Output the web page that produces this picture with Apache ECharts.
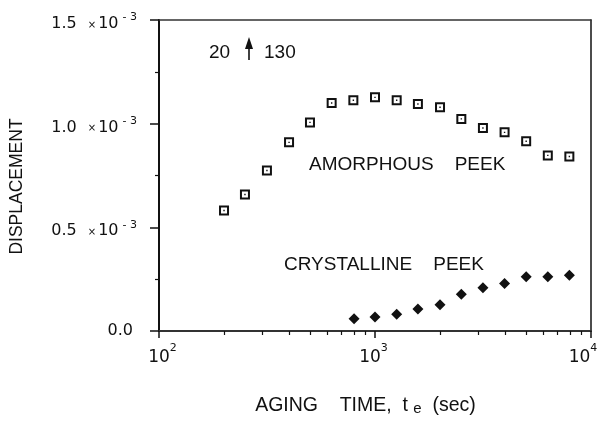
<!DOCTYPE html>
<html>
<head>
<meta charset="utf-8">
<script src="https://cdn.jsdelivr.net/npm/echarts@6/dist/echarts.min.js"></script>
<style>
  html, body { margin: 0; padding: 0; background: #fff; overflow: hidden; }
  #chart { width: 601px; height: 422px; }
</style>
</head>
<body>
<div id="chart"></div>
<script>
// Aging time (s) and displacement (in units of 10^-3)
const amorphousTime = [200, 250, 316, 400, 500, 630, 794, 1000, 1260, 1580, 2000, 2510, 3160, 3980, 5010, 6310, 7940];
const amorphousDisp = [0.581, 0.658, 0.774, 0.910, 1.006, 1.100, 1.113, 1.127, 1.113, 1.095, 1.079, 1.023, 0.979, 0.958, 0.915, 0.847, 0.842];
const crystallineTime = [800, 1000, 1260, 1580, 2000, 2510, 3160, 3980, 5010, 6310, 7940];
const crystallineDisp = [0.059, 0.068, 0.081, 0.106, 0.127, 0.177, 0.209, 0.229, 0.262, 0.262, 0.269];

// Axis ticks
const xMajorTicks = [100, 1000, 10000];
const xMinorTicks = [200, 300, 400, 500, 600, 700, 800, 900, 2000, 3000, 4000, 5000, 6000, 7000, 8000, 9000];

const FONT = '"Liberation Sans", Arial, sans-serif';
const NUMFONT = '"DejaVu Sans", sans-serif';
const INK = '#111';

// open square with a centre dot
const squareDot = 'path://M0 0H10V10H0ZM2 2V8H8V2ZM4.3 4.3H5.7V5.7H4.3Z';

const chart = echarts.init(document.getElementById('chart'), null, { renderer: 'canvas' });

const pair = (xs, ys) => xs.map((x, i) => [x, ys[i]]);

// decade labels: "10" with a raised exponent; the last one is pulled inside the frame
const decadeLabel = v => {
  const e = Math.round(Math.log10(v));
  return '{b' + e + '|10}{s' + e + '|' + e + '}';
};
const digitStyle = pad => ({ fontFamily: NUMFONT, fontSize: 17, color: INK, padding: pad });
const expStyle = pad => ({ fontFamily: NUMFONT, fontSize: 11, color: INK, verticalAlign: 'top', padding: pad });

const option = {
  backgroundColor: '#fff',
  animation: false,
  grid: { left: 159, right: 10, top: 20, bottom: 91, containLabel: false, outerBoundsMode: 'none' },
  xAxis: [
    {
      type: 'log', logBase: 10, min: 100, max: 10000,
      position: 'bottom',
      axisLine: { show: true, lineStyle: { color: '#333', width: 2 } },
      axisTick: { show: true, inside: false, length: 7, customValues: xMajorTicks, lineStyle: { color: INK, width: 1.5 } },
      splitLine: { show: false },
      axisLabel: {
        margin: 10,
        hideOverlap: false,
        customValues: xMajorTicks,
        formatter: decadeLabel,
        rich: {
          b2: digitStyle([8, 0, 0, 7]), s2: expStyle([2, 0, 0, 0]),
          b3: digitStyle([8, 0, 0, 0]), s3: expStyle([2, 3, 0, 0]),
          b4: digitStyle([8, 0, 0, 0]), s4: expStyle([2, 16, 0, 0])
        }
      },
      name: '{t|AGING    TIME,  t }{sub|e}{t|  (sec)}',
      nameLocation: 'middle',
      nameGap: 64,
      nameTextStyle: {
        padding: [0, 19, 0, 0],
        rich: {
          t: { fontFamily: FONT, fontSize: 19.5, color: INK },
          sub: { fontFamily: FONT, fontSize: 15, color: INK, padding: [6, 0, 0, 0] }
        }
      }
    },
    {
      // minor decade ticks
      type: 'log', logBase: 10, min: 100, max: 10000,
      position: 'bottom',
      axisLine: { show: false },
      axisTick: { show: true, inside: false, length: 4, customValues: xMinorTicks, lineStyle: { color: INK, width: 1.2 } },
      axisLabel: { show: false },
      splitLine: { show: false }
    },
    {
      // top frame
      type: 'log', logBase: 10, min: 100, max: 10000,
      position: 'top',
      axisLine: { show: true, lineStyle: { color: '#333', width: 1.5 } },
      axisTick: { show: false },
      axisLabel: { show: false },
      splitLine: { show: false }
    }
  ],
  yAxis: [
    {
      type: 'value', min: 0, max: 1.5, interval: 0.5,
      position: 'left',
      axisLine: { show: true, lineStyle: { color: INK, width: 2 } },
      axisTick: { show: true, inside: false, length: 9, lineStyle: { color: INK, width: 1.5 } },
      minorTick: { show: true, splitNumber: 2, length: 4, lineStyle: { color: INK, width: 1.2 } },
      splitLine: { show: false },
      axisLabel: {
        margin: 22,
        formatter: v => v === 0 ? '{z|0.0}' : '{n|' + v.toFixed(1) + '}{g| }{x|×}{n|10}{s|- 3}',
        rich: {
          z: { fontFamily: NUMFONT, fontSize: 16, color: INK, padding: [0, 4, 0, 0] },
          n: { fontFamily: NUMFONT, fontSize: 16, color: INK, padding: [8, 0, 0, 0] },
          g: { fontFamily: NUMFONT, fontSize: 16, color: INK, width: 11, padding: [8, 0, 0, 0] },
          x: { fontFamily: NUMFONT, fontSize: 10, color: INK, padding: [10, 2, 0, 0] },
          s: { fontFamily: NUMFONT, fontSize: 11, color: INK, verticalAlign: 'top', padding: [4, 0, 0, 4] }
        }
      },
      name: 'DISPLACEMENT',
      nameLocation: 'middle',
      nameRotate: 90,
      nameGap: 133,
      nameTextStyle: { fontFamily: FONT, fontSize: 17.5, color: INK, padding: [0, 22, 0, 0] }
    },
    {
      // right frame
      type: 'value', min: 0, max: 1.5, interval: 0.5,
      position: 'right',
      axisLine: { show: true, lineStyle: { color: INK, width: 1.5 } },
      axisTick: { show: false },
      axisLabel: { show: false },
      splitLine: { show: false }
    }
  ],
  graphic: [
    { type: 'text', left: 309, top: 155, style: { text: 'AMORPHOUS    PEEK', font: '19px ' + FONT, fill: INK } },
    { type: 'text', left: 284, top: 255, style: { text: 'CRYSTALLINE    PEEK', font: '19px ' + FONT, fill: INK } },
    { type: 'text', left: 209, top: 43, style: { text: '20', font: '19px ' + FONT, fill: INK } },
    { type: 'text', left: 264, top: 43, style: { text: '130', font: '19px ' + FONT, fill: INK } },
    { type: 'line', shape: { x1: 249, y1: 46, x2: 249, y2: 60 }, style: { stroke: INK, lineWidth: 1.6 } },
    { type: 'polygon', shape: { points: [[249, 37], [245, 49], [253, 49]] }, style: { fill: INK } }
  ],
  series: [
    {
      name: 'AMORPHOUS PEEK',
      type: 'scatter',
      xAxisIndex: 0, yAxisIndex: 0,
      data: pair(amorphousTime, amorphousDisp),
      symbol: squareDot,
      symbolSize: 10,
      itemStyle: { color: INK, opacity: 1 }
    },
    {
      name: 'CRYSTALLINE PEEK',
      type: 'scatter',
      xAxisIndex: 0, yAxisIndex: 0,
      data: pair(crystallineTime, crystallineDisp),
      symbol: 'diamond',
      symbolSize: [11, 11],
      itemStyle: { color: INK, opacity: 1 }
    }
  ]
};

chart.setOption(option);
</script>
</body>
</html>
